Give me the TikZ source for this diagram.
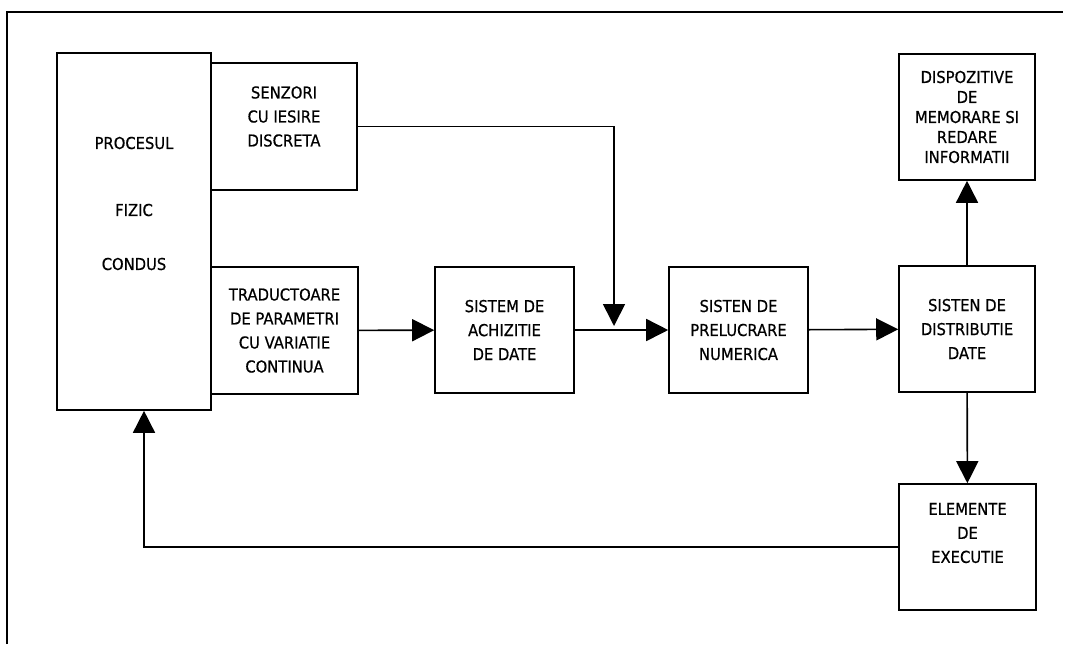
\documentclass[tikz,border=0pt]{standalone}
\usepackage{fontspec}
\newfontfamily\plotfont[FakeStretch=0.9, FakeBold=0.6]{DejaVu Sans}
\usetikzlibrary{arrows.meta}
\tikzset{
    blk/.style={draw, line width=0.8pt, inner sep=0pt, align=center,
                font=\plotfont\fontsize{8.2}{12}\selectfont},
    txt/.style={inner sep=0pt, align=center,
                font=\plotfont\fontsize{8.2}{12}\selectfont},
    arr/.style={-{Triangle[length=11pt, width=11pt]}, line width=0.8pt},
    wire/.style={-, line width=0.8pt},
}
\begin{document}
\begin{tikzpicture}[x=0.5pt, y=-0.5pt]
    \useasboundingbox (0,0) rectangle (1074,644);
    % frame
    \draw[wire] (7,644) -- (7,12) -- (1063,12);
    % process and sensors
    \node[blk, minimum width=77pt, minimum height=178.5pt] (proc) at (134,231.5) {};
    \node[txt] (proctxt) at ([yshift=14pt]proc.center)
        {PROCESUL\\[21.5pt]FIZIC\\[15pt]CONDUS};
    \node[blk, minimum width=73pt, minimum height=63.5pt] (senz) at (284,126.5) {};
    \node[txt] (senztxt) at ([yshift=5pt]senz.center) {SENZORI\\CU IESIRE\\DISCRETA};
    \node[blk, minimum width=73.5pt, minimum height=63.5pt] (trad) at (284.5,330.5)
        {TRADUCTOARE\\DE PARAMETRI\\CU VARIATIE\\CONTINUA};
    % processing chain
    \node[blk, minimum width=69.5pt, minimum height=63pt] (achiz) at (504.5,330)
        {SISTEM DE\\ACHIZITIE\\DE DATE};
    \node[blk, minimum width=69.5pt, minimum height=63pt] (prel) at (738.5,330)
        {SISTEN DE\\PRELUCRARE\\NUMERICA};
    \node[blk, minimum width=68pt, minimum height=63pt] (distr) at (967,329)
        {SISTEN DE\\DISTRIBUTIE\\DATE};
    \node[blk, minimum width=68pt, minimum height=63pt, font=\plotfont\fontsize{8.2}{10}\selectfont]
        (disp) at (967,117) {DISPOZITIVE\\DE\\MEMORARE SI\\REDARE\\INFORMATII};
    \node[blk, minimum width=68.5pt, minimum height=63pt] (elem) at (967.5,547) {};
    \node[txt] (elemtxt) at ([yshift=7pt]elem.center) {ELEMENTE\\DE\\EXECUTIE};
    \coordinate (jn) at (614,326);
    % connections
    \draw[arr] (trad) -- (achiz);
    \draw[arr] (achiz) -- (prel);
    \draw[arr] (senz.east) -| (jn);
    \draw[arr] (prel) -- (distr);
    \draw[arr] (distr) -- (disp);
    \draw[arr] (distr) -- (elem);
    \draw[arr] (elem.west) -| ([xshift=5pt]proc.south);
\end{tikzpicture}
\end{document}
